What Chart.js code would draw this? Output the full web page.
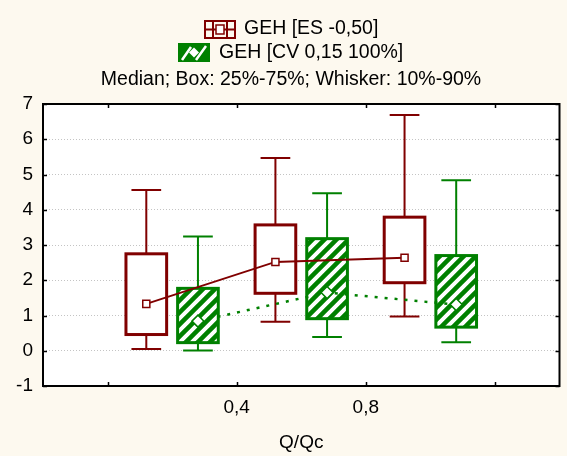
<!DOCTYPE html>
<html>
<head>
<meta charset="utf-8">
<script src="https://cdn.jsdelivr.net/npm/chart.js@4.4.1/dist/chart.umd.min.js"></script>
<style>
  html, body { margin: 0; padding: 0; background: #FDF9EF; }
  #wrap { width: 567px; height: 456px; }
</style>
</head>
<body>
<div id="wrap"><canvas id="c" width="567" height="456"></canvas></div>
<script>
// ---- data ----
const categories = [0.2, 0.6, 1.0];           // Q/Qc group centres
const xTickValues = [0, 0.4, 0.8, 1.2];
const xTickLabels = ['', '0,4', '0,8', ''];
const seriesNames = ['GEH [ES -0,50]', 'GEH [CV 0,15 100%]'];
const statNote = 'Median; Box: 25%-75%; Whisker: 10%-90%';

const esMedian = [1.33, 2.52, 2.64];
const esQ1     = [0.46, 1.63, 1.93];
const esQ3     = [2.75, 3.57, 3.79];
const esP10    = [0.05, 0.82, 0.97];
const esP90    = [4.56, 5.47, 6.69];

const cvMedian = [0.84, 1.65, 1.31];
const cvQ1     = [0.23, 0.91, 0.67];
const cvQ3     = [1.77, 3.18, 2.70];
const cvP10    = [0.01, 0.39, 0.24];
const cvP90    = [3.24, 4.47, 4.84];

// ---- style ----
const RED = '#800000';
const GREEN = '#008000';
const OFFSET = 0.08;     // x-offset of each series from its group centre
const BOX_W = 0.126;     // box width in x units
const CAP_W = 0.092;     // whisker cap width in x units
const FONT = "'Liberation Sans', Arial, sans-serif";

Chart.defaults.font.family = FONT;
Chart.defaults.color = '#000';

function makeHatch() {
  const p = 12;
  const c = document.createElement('canvas');
  c.width = p; c.height = p;
  const g = c.getContext('2d');
  g.fillStyle = '#fff';
  g.fillRect(0, 0, p, p);
  g.strokeStyle = GREEN;
  g.lineWidth = 4.5;
  g.beginPath();
  for (const k of [0, p, 2 * p]) {
    g.moveTo(k - 2 * p, 2 * p);
    g.lineTo(k + 2 * p, -2 * p);
  }
  g.stroke();
  return g.createPattern(c, 'repeat');
}

const series = [
  { off: -OFFSET, med: esMedian, q1: esQ1, q3: esQ3, lo: esP10, hi: esP90, color: RED, hatch: false },
  { off: OFFSET, med: cvMedian, q1: cvQ1, q3: cvQ3, lo: cvP10, hi: cvP90, color: GREEN, hatch: true }
];

const bgPlugin = {
  id: 'bg',
  beforeDraw(chart) {
    const { ctx, chartArea: a } = chart;
    ctx.save();
    ctx.fillStyle = '#FDF9EF';
    ctx.fillRect(0, 0, chart.width, chart.height);
    ctx.fillStyle = '#fff';
    ctx.fillRect(a.left, a.top, a.right - a.left, a.bottom - a.top);
    ctx.restore();
  }
};

const boxPlugin = {
  id: 'boxes',
  beforeDatasetsDraw(chart) {
    const { ctx } = chart;
    const xs = chart.scales.x, ys = chart.scales.y;
    const hatch = makeHatch();
    ctx.save();
    series.forEach(s => {
      categories.forEach((cat, i) => {
        const xc = xs.getPixelForValue(cat + s.off);
        const bl = xs.getPixelForValue(cat + s.off - BOX_W / 2);
        const br = xs.getPixelForValue(cat + s.off + BOX_W / 2);
        const cl = xs.getPixelForValue(cat + s.off - CAP_W / 2);
        const cr = xs.getPixelForValue(cat + s.off + CAP_W / 2);
        const yLo = ys.getPixelForValue(s.lo[i]);
        const yHi = ys.getPixelForValue(s.hi[i]);
        const yQ1 = ys.getPixelForValue(s.q1[i]);
        const yQ3 = ys.getPixelForValue(s.q3[i]);
        ctx.strokeStyle = s.color;
        ctx.lineWidth = 2;
        ctx.beginPath();
        ctx.moveTo(xc, yQ1); ctx.lineTo(xc, yLo);
        ctx.moveTo(xc, yQ3); ctx.lineTo(xc, yHi);
        ctx.moveTo(cl, yLo); ctx.lineTo(cr, yLo);
        ctx.moveTo(cl, yHi); ctx.lineTo(cr, yHi);
        ctx.stroke();
        ctx.fillStyle = s.hatch ? hatch : '#fff';
        ctx.fillRect(bl, yQ3, br - bl, yQ1 - yQ3);
        ctx.lineWidth = 3;
        ctx.strokeRect(bl, yQ3, br - bl, yQ1 - yQ3);
      });
    });
    ctx.restore();
  },
  afterDraw(chart) {
    const { ctx, chartArea: a } = chart;
    const xs = chart.scales.x, ys = chart.scales.y;
    ctx.save();
    // inward ticks
    ctx.strokeStyle = '#000';
    ctx.lineWidth = 1.5;
    ctx.beginPath();
    xs.ticks.forEach(t => {
      const x = Math.round(xs.getPixelForValue(t.value)) + 0.5;
      ctx.moveTo(x, a.top); ctx.lineTo(x, a.top + 4);
      ctx.moveTo(x, a.bottom); ctx.lineTo(x, a.bottom - 4);
    });
    ys.ticks.forEach(t => {
      const y = Math.round(ys.getPixelForValue(t.value)) + 0.5;
      ctx.moveTo(a.left, y); ctx.lineTo(a.left + 4, y);
      ctx.moveTo(a.right, y); ctx.lineTo(a.right - 4, y);
    });
    ctx.stroke();
    // frame
    ctx.lineWidth = 2;
    ctx.strokeRect(a.left, a.top, a.right - a.left, a.bottom - a.top);

    // legend
    ctx.font = '19.5px ' + FONT;
    ctx.fillStyle = '#000';
    ctx.textBaseline = 'middle';
    ctx.textAlign = 'left';
    ctx.fillText(seriesNames[0], 244, 29);
    ctx.fillText(seriesNames[1], 219, 53);
    ctx.textAlign = 'center';
    ctx.fillText(statNote, 291, 80);

    // icon 1: red box-whisker (horizontal)
    ctx.strokeStyle = RED;
    ctx.lineWidth = 2;
    ctx.strokeRect(205, 21, 30, 17);
    ctx.beginPath();
    ctx.moveTo(205, 29.5); ctx.lineTo(235, 29.5);
    ctx.moveTo(213, 21); ctx.lineTo(213, 38);
    ctx.moveTo(227, 21); ctx.lineTo(227, 38);
    ctx.stroke();
    ctx.fillStyle = '#fff';
    ctx.fillRect(216, 25, 8, 9);
    ctx.lineWidth = 1.5;
    ctx.strokeRect(216, 25, 8, 9);

    // icon 2: green hatched
    ctx.fillStyle = GREEN;
    ctx.fillRect(178, 43, 32, 19);
    ctx.strokeStyle = '#fff';
    ctx.lineWidth = 2.5;
    ctx.beginPath();
    ctx.moveTo(182, 60); ctx.lineTo(191, 47);
    ctx.moveTo(196, 60); ctx.lineTo(206, 46);
    ctx.stroke();
    ctx.fillStyle = '#fff';
    ctx.beginPath();
    ctx.moveTo(194, 47.5); ctx.lineTo(199, 52.5); ctx.lineTo(194, 57.5); ctx.lineTo(189, 52.5);
    ctx.closePath();
    ctx.fill();
    ctx.restore();
  }
};

const toPts = (arr, off) => categories.map((c, i) => ({ x: c + off, y: arr[i] }));

new Chart(document.getElementById('c'), {
  type: 'scatter',
  data: {
    datasets: [
      {
        label: seriesNames[0],
        data: toPts(esMedian, -OFFSET),
        showLine: true,
        borderColor: RED,
        borderWidth: 2,
        pointStyle: 'rect',
        pointRadius: 5,
        pointBackgroundColor: '#fff',
        pointBorderColor: RED,
        pointBorderWidth: 1.5
      },
      {
        label: seriesNames[1],
        data: toPts(cvMedian, OFFSET),
        showLine: true,
        borderColor: GREEN,
        borderWidth: 2.5,
        borderDash: [3, 7],
        pointStyle: 'rectRot',
        pointRadius: 6,
        pointBackgroundColor: '#fff',
        pointBorderColor: GREEN,
        pointBorderWidth: 1.5
      }
    ]
  },
  options: {
    responsive: false,
    animation: false,
    layout: { padding: { top: 104, right: 2, left: 0, bottom: 0 } },
    plugins: { legend: { display: false }, tooltip: { enabled: false } },
    scales: {
      x: {
        type: 'linear',
        min: -0.2,
        max: 1.4,
        afterBuildTicks(scale) { scale.ticks = xTickValues.map(v => ({ value: v })); },
        afterFit(scale) { scale.height = 70; },
        ticks: {
          autoSkip: false,
          padding: 10,
          font: { size: 19 },
          color: '#000',
          callback(v) { const i = xTickValues.indexOf(v); return i >= 0 ? xTickLabels[i] : ''; },
          maxRotation: 0
        },
        grid: { display: false, drawTicks: false },
        border: { display: false },
        title: { display: true, text: 'Q/Qc', font: { size: 19 }, color: '#000', padding: { top: 0, bottom: 2 } }
      },
      y: {
        min: -1,
        max: 7,
        afterFit(scale) { scale.width = 43; },
        ticks: { stepSize: 1, padding: 10, font: { size: 19 }, color: '#000' },
        grid: { color: '#c4c4c4', lineWidth: 1, drawTicks: false },
        border: { display: false, dash: [1, 2] }
      }
    }
  },
  plugins: [bgPlugin, boxPlugin]
});
</script>
</body>
</html>
